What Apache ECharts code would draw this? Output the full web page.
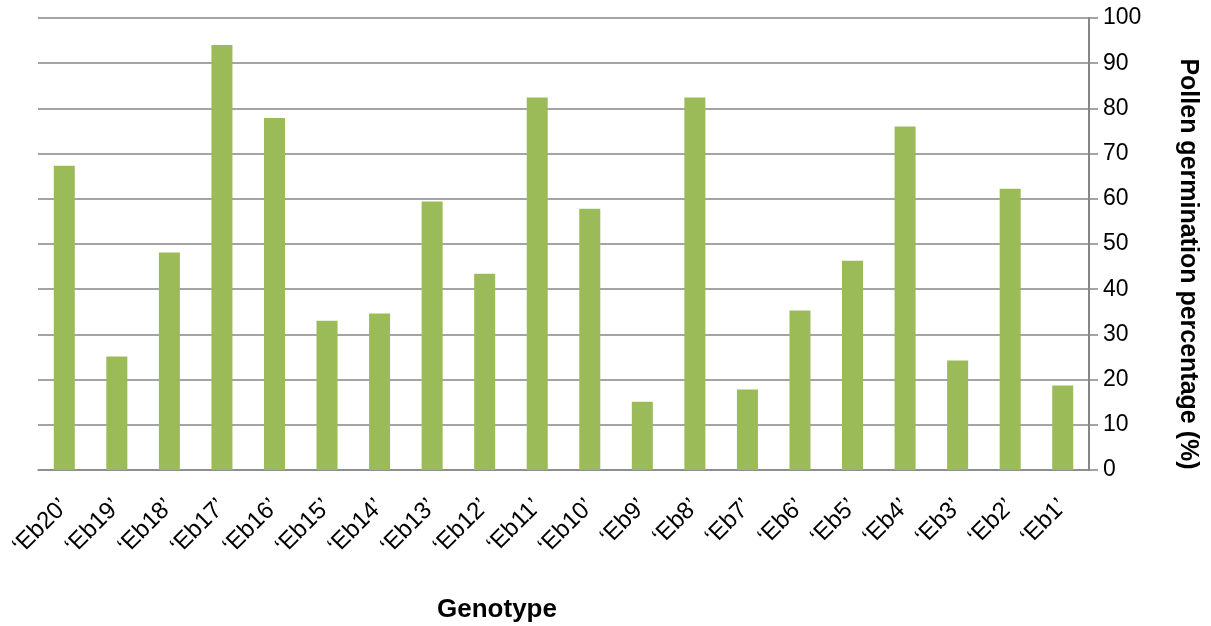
<!DOCTYPE html>
<html>
<head>
<meta charset="utf-8">
<script src="https://cdn.jsdelivr.net/npm/echarts@6/dist/echarts.min.js"></script>
<style>
  html, body { margin: 0; padding: 0; background: #fff; }
  #chart { width: 1211px; height: 626px; }
</style>
</head>
<body>
<div id="chart"></div>
<script>
const genotypes = ['‘Eb20’', '‘Eb19’', '‘Eb18’', '‘Eb17’', '‘Eb16’', '‘Eb15’', '‘Eb14’', '‘Eb13’', '‘Eb12’', '‘Eb11’',
  '‘Eb10’', '‘Eb9’', '‘Eb8’', '‘Eb7’', '‘Eb6’', '‘Eb5’', '‘Eb4’', '‘Eb3’', '‘Eb2’', '‘Eb1’']
const germination = [67.3, 25.1, 48.1, 94.0, 77.9, 33.0, 34.6, 59.4, 43.4, 82.4,
  57.8, 15.1, 82.4, 17.8, 35.3, 46.3, 76.0, 24.2, 62.2, 18.7]

const axisGray = '#868686'
const font = 'Liberation Sans, Arial, sans-serif'

const myChart = echarts.init(document.getElementById('chart'))
const option = {
  animation: false,
  grid: { left: 38, right: 122, top: 18, bottom: 156 },
  xAxis: {
    type: 'category',
    data: genotypes,
    axisLine: { lineStyle: { color: axisGray, width: 1.5 } },
    axisTick: { length: 10, lineStyle: { color: axisGray, width: 1.5 } },
    axisLabel: {
      rotate: 45,
      margin: 33,
      color: '#000',
      fontFamily: font,
      fontSize: 24,
      interval: 0,
    },
  },
  yAxis: {
    type: 'value',
    position: 'right',
    min: 0,
    max: 100,
    interval: 10,
    axisLine: { show: true, lineStyle: { color: axisGray, width: 2 } },
    axisTick: { show: true, length: 9, lineStyle: { color: axisGray, width: 1.5 } },
    axisLabel: { margin: 14, color: '#000', fontFamily: font, fontSize: 23 },
    splitLine: { lineStyle: { color: axisGray, width: 1.5 } },
  },
  graphic: [
    {
      type: 'text',
      x: 1188,
      y: 264,
      rotation: -Math.PI / 2,
      style: {
        text: 'Pollen germination percentage (%)',
        fontFamily: font,
        fontWeight: 'bold',
        fontSize: 25,
        fill: '#000',
        align: 'center',
        verticalAlign: 'middle',
      },
    },
    {
      type: 'text',
      x: 497,
      y: 610,
      style: {
        text: 'Genotype',
        fontFamily: font,
        fontWeight: 'bold',
        fontSize: 26,
        fill: '#000',
        align: 'center',
        verticalAlign: 'middle',
      },
    },
  ],
  series: [
    {
      type: 'bar',
      data: germination,
      barWidth: '40%',
      itemStyle: { color: '#9BBB59' },
    },
  ],
}
myChart.setOption(option)
</script>
</body>
</html>
